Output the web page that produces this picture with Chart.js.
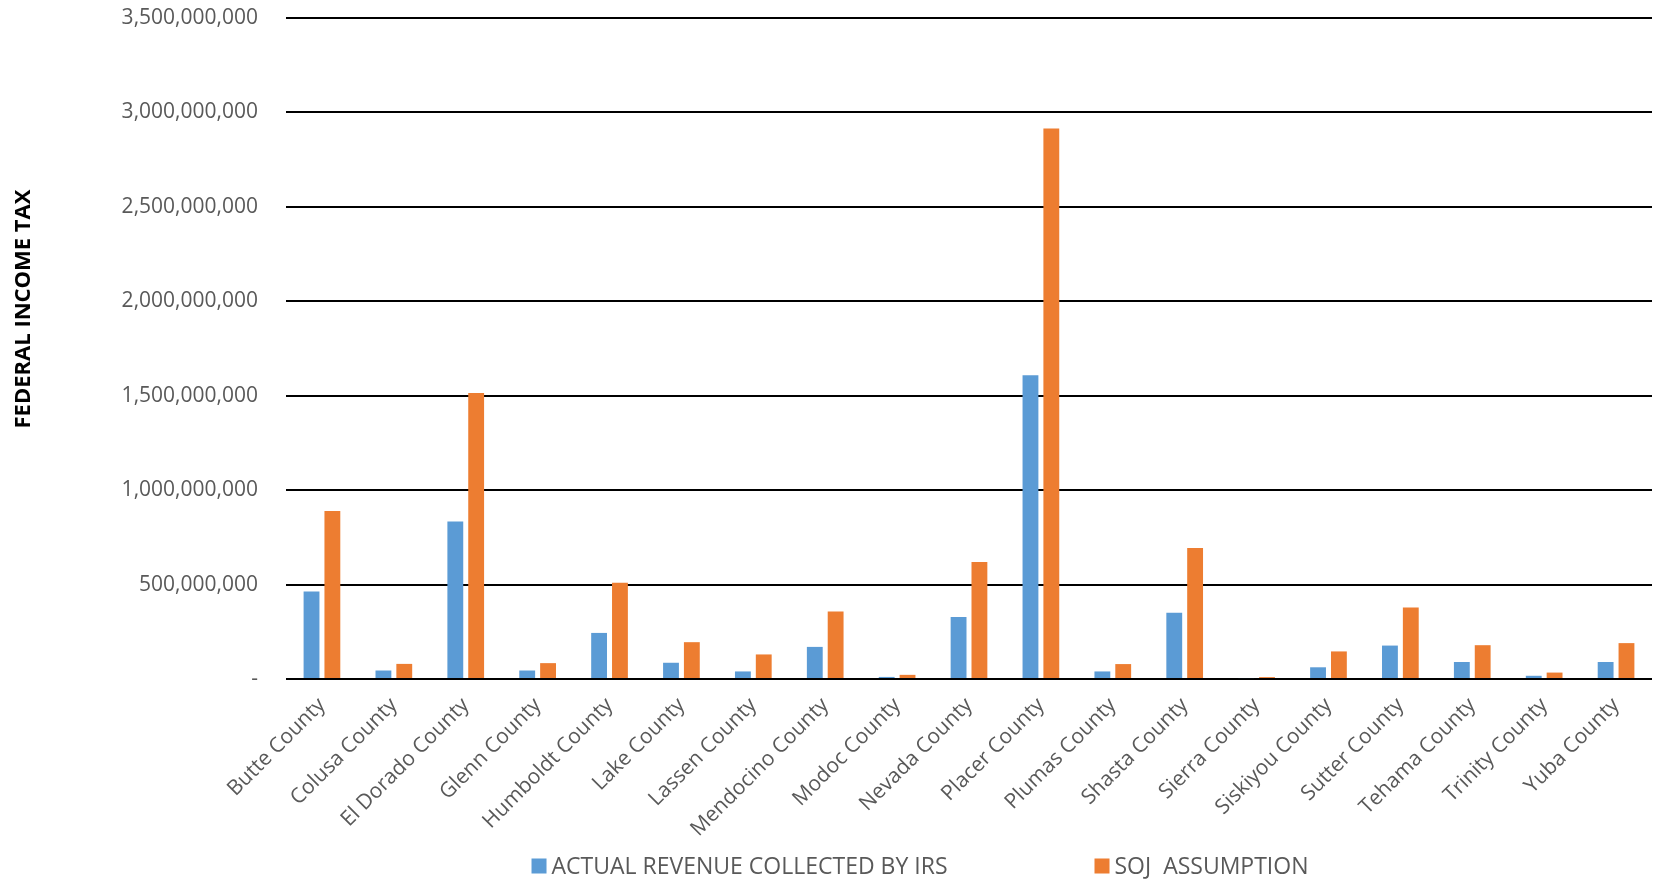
<!DOCTYPE html>
<html>
<head>
<meta charset="utf-8">
<script src="https://cdn.jsdelivr.net/npm/chart.js@4/dist/chart.umd.min.js"></script>
<style>
  html, body { margin: 0; padding: 0; background: #fff; }
  #wrap { width: 1663px; height: 882px; }
</style>
</head>
<body>
<div id="wrap"><canvas id="taxChart"></canvas></div>
<script>
const counties = ["Butte County", "Colusa County", "El Dorado County", "Glenn County", "Humboldt County",
  "Lake County", "Lassen County", "Mendocino County", "Modoc County", "Nevada County", "Placer County",
  "Plumas County", "Shasta County", "Sierra County", "Siskiyou County", "Sutter County", "Tehama County",
  "Trinity County", "Yuba County"];

// actual revenue collected by IRS
const irsActual = [463e6, 45e6, 834e6, 45e6, 244e6, 86e6, 40e6, 170e6, 11e6, 328e6, 1609e6,
  40e6, 351e6, 5e6, 62e6, 177e6, 90e6, 17e6, 90e6];

// SOJ assumption
const sojAssumption = [889e6, 80e6, 1514e6, 84e6, 509e6, 195e6, 130e6, 358e6, 22e6, 619e6, 2915e6,
  79e6, 693e6, 10e6, 146e6, 379e6, 179e6, 34e6, 190e6];

const seriesNames = ["ACTUAL REVENUE COLLECTED BY IRS", "SOJ  ASSUMPTION"];
const yTitle = "FEDERAL INCOME TAX";
const yMax = 3500000000;
const yStep = 500000000;

const textGrey = '#595959';
const fontName = "'Open Sans', sans-serif";

// legend + axis title drawn by hand so their positions match the original
const extraText = {
  id: 'extraText',
  afterDraw(chart) {
    const ctx = chart.ctx;
    ctx.save();
    ctx.font = '23px ' + fontName;
    ctx.textBaseline = 'middle';
    const box = 15, boxGap = 5, itemGap = 147;
    const sets = chart.data.datasets;
    const widths = sets.map(d => box + boxGap + ctx.measureText(d.label).width);
    const total = widths.reduce((a, b) => a + b, 0) + itemGap * (sets.length - 1);
    let x = 920 - total / 2;
    const y = 866;
    sets.forEach((d, i) => {
      ctx.fillStyle = d.backgroundColor;
      ctx.fillRect(x, y - box / 2, box, box);
      ctx.fillStyle = textGrey;
      ctx.fillText(d.label, x + box + boxGap, y + 1);
      x += widths[i] + itemGap;
    });

    // rotated y title
    ctx.translate(24, 309);
    ctx.rotate(-Math.PI / 2);
    ctx.font = 'bold 22px ' + fontName;
    ctx.fillStyle = '#000';
    ctx.textAlign = 'center';
    ctx.fillText(yTitle, 0, 0);
    ctx.restore();
  }
};

new Chart(document.getElementById('taxChart'), {
  type: 'bar',
  data: {
    labels: counties,
    datasets: [
      {
        label: seriesNames[0],
        data: irsActual,
        backgroundColor: '#5B9BD5',
        categoryPercentage: 0.58,
        barPercentage: 0.76
      },
      {
        label: seriesNames[1],
        data: sojAssumption,
        backgroundColor: '#ED7D31',
        categoryPercentage: 0.58,
        barPercentage: 0.76
      }
    ]
  },
  options: {
    responsive: true,
    maintainAspectRatio: false,
    animation: false,
    layout: { padding: { top: 18, right: 11, bottom: 0, left: 0 } },
    plugins: {
      legend: { display: false },
      tooltip: { enabled: false }
    },
    scales: {
      x: {
        grid: { display: false },
        border: { display: false },
        ticks: {
          color: textGrey,
          font: { family: fontName, size: 21 },
          maxRotation: 45,
          minRotation: 45,
          padding: 6
        },
        afterFit: (scale) => { scale.height = 203; }
      },
      y: {
        min: 0,
        max: yMax,
        border: { display: false },
        // invisible tick marks push the labels away from the grid
        grid: { color: '#000', lineWidth: 2, drawTicks: true, tickLength: 24, tickColor: 'rgba(0,0,0,0)' },
        ticks: {
          stepSize: yStep,
          color: textGrey,
          padding: 4,
          font: { family: fontName, size: 21 },
          callback: v => v === 0 ? '-' : v.toLocaleString('en-US')
        },
        afterFit: (scale) => { scale.width = 286; }
      }
    }
  },
  plugins: [extraText]
});
</script>
</body>
</html>
